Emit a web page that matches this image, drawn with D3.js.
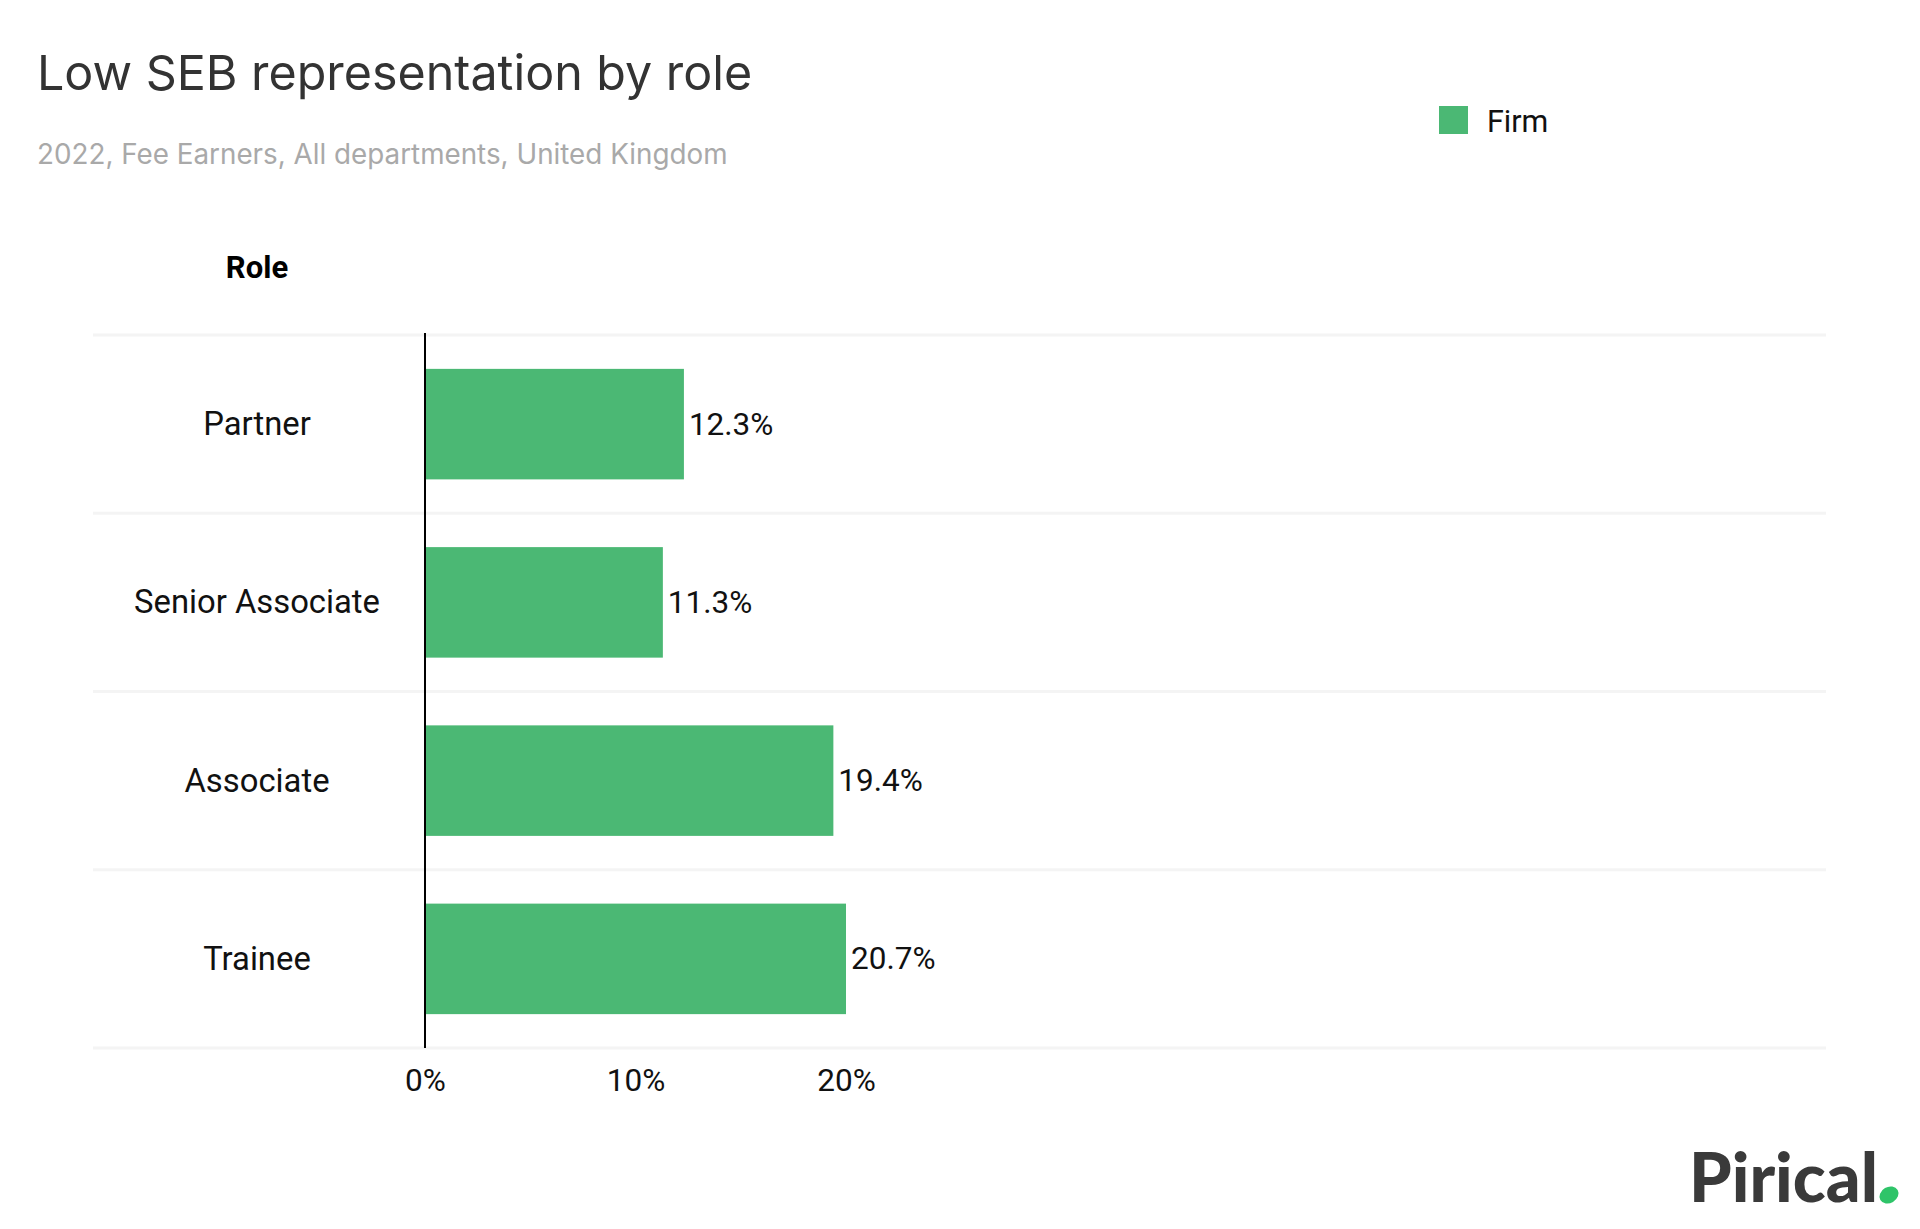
<!DOCTYPE html>
<html>
<head>
<meta charset="utf-8">
<script src="https://cdn.jsdelivr.net/npm/d3@7"></script>
<style>
  html, body { margin: 0; padding: 0; background: #fff; }
  svg { display: block; }
  .lbl { font-family: Roboto, "Noto Sans", sans-serif; fill: #111; }
</style>
</head>
<body>
<div id="chart"></div>
<script>
"use strict";

// Data
const roles = ["Partner", "Senior Associate", "Associate", "Trainee"];
const firmValues = [0.123, 0.113, 0.194, 0.207];
const xTicks = [0, 0.1, 0.2];
const seriesName = "Firm";
const titleText = "Low SEB representation by role";
const subtitleText = "2022, Fee Earners, All departments, United Kingdom";

const WIDTH = 1920;
const HEIGHT = 1229;
const GREEN = "#4bb874";

const svg = d3.select("#chart")
  .append("svg")
    .attr("width", WIDTH)
    .attr("height", HEIGHT);

// Title block
svg.append("text")
    .attr("x", 37)
    .attr("y", 90)
    .attr("font-family", "Inter, 'Open Sans', sans-serif")
    .attr("font-size", 48.4)
    .attr("fill", "#333")
    .text(titleText);

svg.append("text")
    .attr("x", 37)
    .attr("y", 164)
    .attr("font-family", "Inter, 'Open Sans', sans-serif")
    .attr("font-size", 27.8)
    .attr("fill", "#a9a9a9")
    .text(subtitleText);

// Legend
svg.append("rect")
    .attr("x", 1439).attr("y", 106)
    .attr("width", 29).attr("height", 28)
    .attr("fill", GREEN);
svg.append("text")
    .attr("class", "lbl")
    .attr("x", 1487).attr("y", 132)
    .attr("font-size", 30.5)
    .text(seriesName);

// Scales
const x = d3.scaleLinear()
    .domain([0, 0.2])
    .range([425, 846])
    .clamp(true);

const y = d3.scaleBand()
    .domain(roles)
    .range([335, 1048])
    .paddingInner(0.38)
    .paddingOuter(0.19);

const labelX = 257;

// Column header
svg.append("text")
    .attr("class", "lbl")
    .attr("x", labelX).attr("y", 278)
    .attr("text-anchor", "middle")
    .attr("font-size", 31)
    .attr("font-weight", 700)
    .style("fill", "#000")
    .text("Role");

// Row separators
const lines = d3.range(roles.length + 1).map(i => y.range()[0] + i * y.step());
svg.append("g")
  .selectAll("line")
  .data(lines)
  .join("line")
    .attr("x1", 93).attr("x2", 1826)
    .attr("y1", d => d).attr("y2", d => d)
    .attr("stroke", "#f4f4f4")
    .attr("stroke-width", 3);

// Bars
svg.append("g")
  .selectAll("rect")
  .data(roles)
  .join("rect")
    .attr("x", x(0))
    .attr("y", d => y(d))
    .attr("width", (d, i) => x(firmValues[i]) - x(0))
    .attr("height", y.bandwidth())
    .attr("fill", GREEN);

// Value labels
const fmtVal = d3.format(".1%");
svg.append("g")
  .selectAll("text")
  .data(roles)
  .join("text")
    .attr("class", "lbl")
    .attr("x", (d, i) => x(firmValues[i]) + 5)
    .attr("y", d => y(d) + y.bandwidth() / 2)
    .attr("dominant-baseline", "central")
    .attr("font-size", 31.5)
    .text((d, i) => fmtVal(firmValues[i]));

// Category labels
svg.append("g")
  .selectAll("text")
  .data(roles)
  .join("text")
    .attr("class", "lbl")
    .attr("x", labelX)
    .attr("y", d => y(d) + y.bandwidth() / 2)
    .attr("text-anchor", "middle")
    .attr("dominant-baseline", "central")
    .attr("font-size", 32.8)
    .text(d => d);

// Zero line
svg.append("line")
    .attr("x1", x(0)).attr("x2", x(0))
    .attr("y1", lines[0] - 2).attr("y2", lines[lines.length - 1])
    .attr("stroke", "#000")
    .attr("stroke-width", 2);

// X axis
const xaxis = svg.append("g")
    .attr("transform", `translate(0,${lines[lines.length - 1]})`)
    .call(d3.axisBottom(x)
        .tickValues(xTicks)
        .tickSize(0)
        .tickPadding(21)
        .tickFormat(d3.format(".0%")));
xaxis.select(".domain").remove();
xaxis.selectAll("text")
    .attr("font-family", "Roboto, 'Noto Sans', sans-serif")
    .attr("font-size", 31.5)
    .attr("fill", "#111");

// Logo
svg.append("text")
    .attr("x", 1689).attr("y", 1202)
    .attr("font-family", "Lato, 'Open Sans', sans-serif")
    .attr("font-weight", 900)
    .attr("font-size", 68)
    .attr("fill", "#3a3a3a")
    .attr("textLength", 189)
    .attr("lengthAdjust", "spacingAndGlyphs")
    .text("Pirical");
svg.append("ellipse")
    .attr("cx", 1889).attr("cy", 1195)
    .attr("rx", 10).attr("ry", 8)
    .attr("transform", "rotate(-30,1889,1195)")
    .attr("fill", "#2fc469");
</script>
</body>
</html>
